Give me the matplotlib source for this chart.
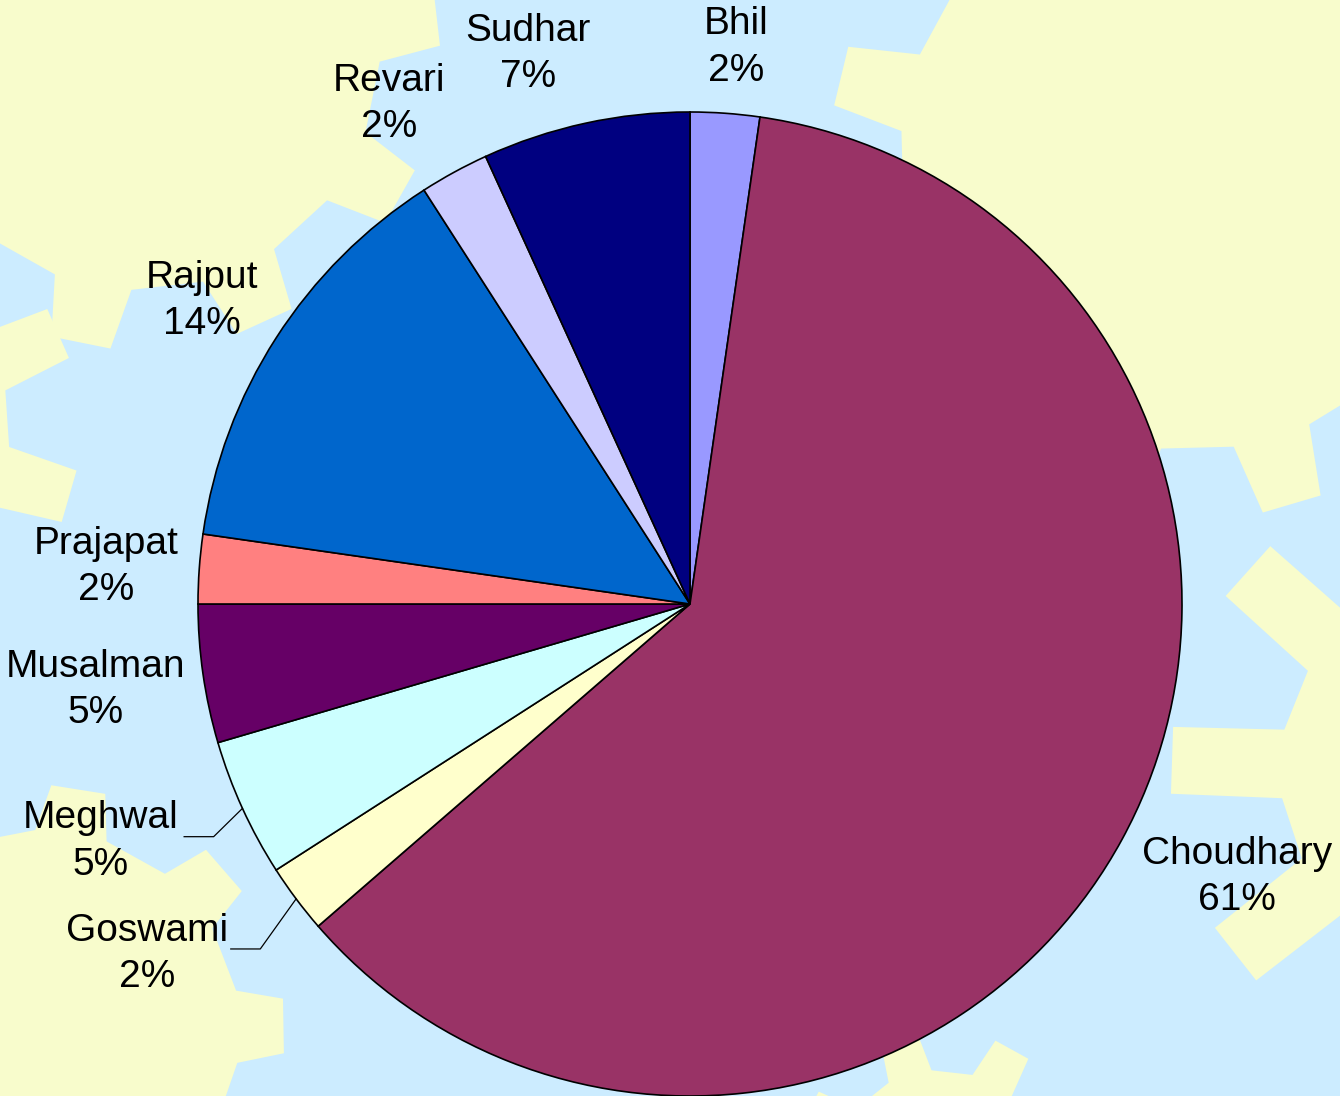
import numpy as np
import matplotlib
matplotlib.use("Agg")
import matplotlib.pyplot as plt
from matplotlib.patches import Polygon

plt.rcParams['font.family'] = ['Liberation Sans', 'DejaVu Sans']

# data: counts of households by community
labels = ["Bhil", "Choudhary", "Goswami", "Meghwal", "Musalman",
          "Prajapat", "Rajput", "Revari", "Sudhar"]
counts = [1, 27, 1, 2, 2, 1, 6, 1, 3]
pct_text = ["2%", "61%", "2%", "5%", "5%", "2%", "14%", "2%", "7%"]
colors = ["#9999FF", "#993366", "#FFFFCC", "#CCFFFF", "#660066",
          "#FF8080", "#0066CC", "#CCCCFF", "#000080"]

# label placement: distance from centre (radius units), angle nudge (deg)
lab_dist = [1.14, 1.24, 1.31, 1.29, 1.22, 1.19, 1.17, 1.19, 1.17]
lab_nudge = [0.6, -2.3, 4.2, 2.8, 0.2, -0.2, -0.7, -2.3, -4.1]
leader = [False, False, True, True, False, False, False, False, False]

W, H = 1340, 1096
fig = plt.figure(figsize=(W / 100, H / 100), dpi=100)
fig.patch.set_facecolor("#CCECFF")

# background decoration (gear-like shapes of the slide template)
bg = fig.add_axes([0, 0, 1, 1], zorder=0)
bg.set_xlim(0, W); bg.set_ylim(H, 0); bg.axis("off")


def gear(cx, cy, r_in, r_out, n, rot=0.0):
    pts = []
    step = 2 * np.pi / n
    for i in range(n):
        a = rot + i * step
        for frac, r in [(0.0, r_in), (0.1, r_out), (0.42, r_out), (0.52, r_in)]:
            t = a + frac * step
            pts.append((cx + r * np.cos(t), cy + r * np.sin(t)))
    return pts


yel = "#F8FCCC"
for g in [(140, 50, 240, 300, 10, 0.35), (1190, 160, 290, 360, 12, 0.1),
          (1470, 770, 190, 300, 9, 0.2), (-160, 430, 170, 240, 9, 0.1),
          (40, 1030, 200, 245, 9, 0.5), (940, 1180, 110, 150, 8, 0.3)]:
    bg.add_patch(Polygon(gear(*g), closed=True, facecolor=yel, edgecolor="none"))

R = 492
cx, cy = 690, 604
ax = fig.add_axes([(cx - R) / W, (H - cy - R) / H, 2 * R / W, 2 * R / H], zorder=1)
ax.set_facecolor("none")
wedges, _ = ax.pie(counts, colors=colors, startangle=90, counterclock=False,
                   wedgeprops=dict(edgecolor="black", linewidth=1.2))
ax.set_xlim(-1, 1); ax.set_ylim(-1, 1)
ax.set_aspect("equal")
ax.axis("off")

for w, name, pt, d, nud, ld in zip(wedges, labels, pct_text, lab_dist, lab_nudge, leader):
    mid = np.deg2rad((w.theta1 + w.theta2) / 2)
    a = mid - np.deg2rad(nud)
    x, y = d * np.cos(a), d * np.sin(a) - 0.005
    ax.text(x, y, name + "\n" + pt, ha="center", va="center", fontsize=28,
            linespacing=1.37, color="black", clip_on=False)
    if ld:
        ex, ey = np.cos(mid), np.sin(mid)
        hx = x + 0.17
        ax.plot([hx, hx + 0.06, ex], [y + 0.01, y + 0.01, ey], color="black",
                linewidth=0.9, clip_on=False)

fig.savefig("out.png", dpi=100, facecolor=fig.get_facecolor())
